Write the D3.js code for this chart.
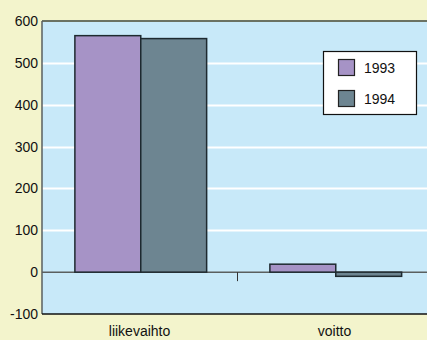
<!DOCTYPE html>
<html><head><meta charset="utf-8">
<script src="https://cdn.jsdelivr.net/npm/d3@7"></script>
<style>body{margin:0;background:#f3f4cc;}svg{display:block;font-family:"Liberation Sans",Arial,sans-serif;}</style>
</head><body><svg id="c" width="427" height="340"></svg>
<script>
const categories = ["liikevaihto", "voitto"];
const years = ["1993", "1994"];
const values1993 = [565, 19];
const values1994 = [558, -10];
const yTicks = [-100, 0, 100, 200, 300, 400, 500, 600];
const colors = ["#a693c6", "#6d8591"];

const svg = d3.select("#c");
const L = 42, R = 432, T = 21, B = 314;
const x0 = d3.scaleBand().domain(categories).range([L, R]).padding(0);
const x1 = d3.scaleBand().domain(years).range([0, x0.bandwidth()]).paddingInner(0).paddingOuter(0.48).align(0.52);
const y = d3.scaleLinear().domain([-100, 600]).range([B, T]);
const color = d3.scaleOrdinal().domain(years).range(colors);
const series = {"1993": values1993, "1994": values1994};

svg.append("rect").attr("x", L).attr("y", T).attr("width", R - L).attr("height", B - T).attr("fill", "#c8e9f9");

// gridlines
svg.append("g").selectAll("line").data(yTicks.filter(d => d > 0 && d < 600)).join("line")
  .attr("x1", L).attr("x2", R).attr("y1", d => Math.round(y(d)) + 0.5).attr("y2", d => Math.round(y(d)) + 0.5)
  .attr("stroke", "#ffffff").attr("stroke-width", 2);

// zero line
svg.append("line").attr("x1", L).attr("x2", R).attr("y1", y(0)).attr("y2", y(0)).attr("stroke", "#5a5f5f").attr("stroke-width", 1.5);

// category boundary tick
svg.append("g").selectAll("line").data(categories.slice(1)).join("line")
  .attr("x1", d => x0(d) + 0.5).attr("x2", d => x0(d) + 0.5).attr("y1", y(0)).attr("y2", y(0) + 9)
  .attr("stroke", "#333").attr("stroke-width", 1);

// bars
const g = svg.append("g").selectAll("g").data(categories).join("g").attr("transform", d => `translate(${x0(d)},0)`);
g.selectAll("rect").data((c, i) => years.map(yr => ({yr, v: series[yr][i]}))).join("rect")
  .attr("x", d => x1(d.yr)).attr("width", x1.bandwidth())
  .attr("y", d => y(Math.max(0, d.v))).attr("height", d => Math.abs(y(d.v) - y(0)))
  .attr("fill", d => color(d.yr)).attr("stroke", "#1e2a30").attr("stroke-width", 1.5);

// plot borders
svg.append("line").attr("x1", L).attr("x2", R).attr("y1", T).attr("y2", T).attr("stroke", "#6b7263").attr("stroke-width", 2);
svg.append("line").attr("x1", L).attr("x2", L).attr("y1", T).attr("y2", B).attr("stroke", "#5a5f5f").attr("stroke-width", 1.5);
svg.append("line").attr("x1", L).attr("x2", R).attr("y1", B).attr("y2", B).attr("stroke", "#111").attr("stroke-width", 1.5);

// y axis labels
const ya = d3.axisLeft(y).tickValues(yTicks).tickFormat(d => String(d)).tickSize(0).tickPadding(4);
const yg = svg.append("g").attr("transform", `translate(${L},0)`).call(ya);
yg.select(".domain").remove();
yg.selectAll("text").attr("font-size", 14).attr("fill", "#111").attr("font-family", "Liberation Sans, Arial, sans-serif");

// x labels
const xa = d3.axisBottom(x0).tickSize(0).tickPadding(12);
const xg = svg.append("g").attr("transform", `translate(0,${B})`).call(xa);
xg.select(".domain").remove();
xg.selectAll("text").attr("font-size", 14).attr("fill", "#111").attr("font-family", "Liberation Sans, Arial, sans-serif");

// legend
const lg = svg.append("g").attr("transform", "translate(323,51)");
lg.append("rect").attr("x", 0.5).attr("y", 0.5).attr("width", 93).attr("height", 63).attr("fill", "#fff").attr("stroke", "#111").attr("stroke-width", 1.2);
years.forEach((yr, i) => {
  lg.append("rect").attr("x", 15.5).attr("y", 8.5 + i * 31).attr("width", 16).attr("height", 16)
    .attr("fill", color(yr)).attr("stroke", "#222").attr("stroke-width", 1.2);
  lg.append("text").attr("x", 41).attr("y", 22 + i * 31).attr("font-size", 14).attr("fill", "#111").text(yr);
});
</script></body></html>
